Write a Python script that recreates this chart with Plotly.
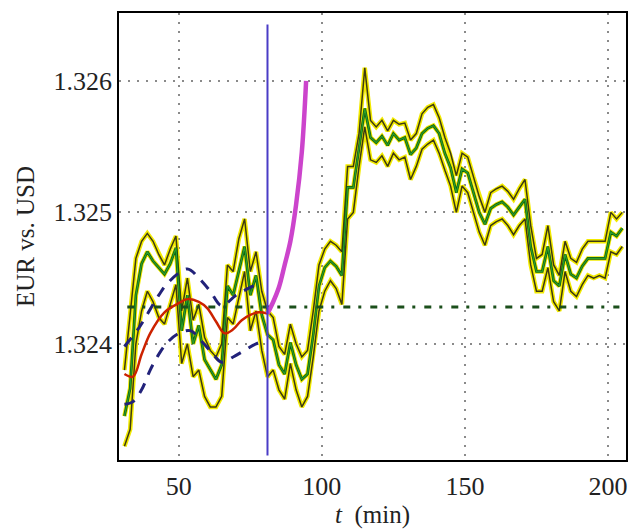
import plotly.graph_objects as go

# ---------------- data ----------------
t_price = list(range(31, 206, 2))
price_high = [1.32380, 1.32425, 1.32465, 1.32478, 1.32484, 1.32478, 1.32468, 1.32460, 1.32472, 1.32482,
              1.32425, 1.32450, 1.32418, 1.32430, 1.32405, 1.32395, 1.32390, 1.32400, 1.32460, 1.32455,
              1.32480, 1.32495, 1.32455, 1.32470, 1.32440, 1.32425, 1.32420, 1.32398, 1.32392, 1.32415,
              1.32400, 1.32390, 1.32395, 1.32425, 1.32460, 1.32472, 1.32478, 1.32475, 1.32470, 1.32535,
              1.32535, 1.32560, 1.32610, 1.32570, 1.32565, 1.32570, 1.32562, 1.32570, 1.32567, 1.32568,
              1.32555, 1.32560, 1.32575, 1.32580, 1.32582, 1.32572, 1.32557, 1.32545, 1.32528, 1.32545,
              1.32542, 1.32527, 1.32512, 1.32500, 1.32515, 1.32518, 1.32520, 1.32516, 1.32510, 1.32518,
              1.32525, 1.32490, 1.32465, 1.32468, 1.32490, 1.32460, 1.32452, 1.32478, 1.32465, 1.32462,
              1.32472, 1.32478, 1.32478, 1.32478, 1.32478, 1.32500, 1.32495, 1.32500]
price_mid = [1.32345, 1.32366, 1.32437, 1.32461, 1.32470, 1.32463, 1.32458, 1.32453, 1.32461, 1.32473,
             1.32410, 1.32437, 1.32400, 1.32414, 1.32388, 1.32381, 1.32373, 1.32384, 1.32444, 1.32437,
             1.32455, 1.32474, 1.32437, 1.32452, 1.32422, 1.32407, 1.32403, 1.32384, 1.32377, 1.32401,
             1.32384, 1.32373, 1.32377, 1.32407, 1.32444, 1.32458, 1.32463, 1.32459, 1.32452, 1.32519,
             1.32519, 1.32549, 1.32579, 1.32557, 1.32553, 1.32558, 1.32551, 1.32560, 1.32555, 1.32557,
             1.32544, 1.32549, 1.32560, 1.32564, 1.32566, 1.32560, 1.32545, 1.32534, 1.32515, 1.32533,
             1.32530, 1.32515, 1.32500, 1.32491, 1.32503, 1.32506, 1.32508, 1.32504, 1.32498, 1.32504,
             1.32510, 1.32474, 1.32455, 1.32455, 1.32474, 1.32448, 1.32444, 1.32468, 1.32453, 1.32450,
             1.32459, 1.32465, 1.32465, 1.32465, 1.32465, 1.32485, 1.32482, 1.32488]
price_low = [1.32322, 1.32335, 1.32400, 1.32425, 1.32440, 1.32432, 1.32420, 1.32415, 1.32430, 1.32445,
             1.32385, 1.32400, 1.32375, 1.32380, 1.32360, 1.32352, 1.32352, 1.32360, 1.32420, 1.32415,
             1.32435, 1.32455, 1.32410, 1.32425, 1.32395, 1.32375, 1.32380, 1.32365, 1.32358, 1.32385,
             1.32365, 1.32352, 1.32360, 1.32390, 1.32425, 1.32440, 1.32448, 1.32442, 1.32430, 1.32495,
             1.32500, 1.32535, 1.32565, 1.32540, 1.32538, 1.32543, 1.32535, 1.32545, 1.32540, 1.32542,
             1.32525, 1.32535, 1.32548, 1.32552, 1.32555, 1.32545, 1.32532, 1.32520, 1.32500, 1.32520,
             1.32515, 1.32500, 1.32485, 1.32475, 1.32490, 1.32493, 1.32495, 1.32490, 1.32483, 1.32490,
             1.32495, 1.32460, 1.32440, 1.32440, 1.32458, 1.32432, 1.32425, 1.32455, 1.32440, 1.32436,
             1.32445, 1.32452, 1.32450, 1.32452, 1.32450, 1.32470, 1.32468, 1.32474]

t_trend = [31, 34, 37, 40, 45, 50, 53, 57, 60, 63, 66, 69, 72, 75, 78, 81]
trend = [1.32377, 1.32375, 1.32392, 1.32408, 1.32424, 1.32431, 1.32434, 1.32432, 1.32427, 1.32417,
         1.32408, 1.32411, 1.32418, 1.32422, 1.32424, 1.32423]

t_band_up = [31, 36, 43, 46, 53, 57, 61, 65, 70, 76, 79]
band_up = [1.32398, 1.32412, 1.32437, 1.32446, 1.32457, 1.32450, 1.32440, 1.32429, 1.32437, 1.32444, 1.32447]
t_band_lo = [31, 34, 37, 40, 43, 46, 50, 54, 58, 62, 65, 69, 73, 77, 80]
band_lo = [1.32354, 1.32356, 1.32365, 1.32380, 1.32392, 1.32401, 1.32408, 1.32410, 1.32402, 1.32392,
           1.32386, 1.32390, 1.32395, 1.32400, 1.32402]

t_forecast = [81, 83, 85, 87, 89, 91, 93, 94.5]
forecast = [1.32423, 1.32432, 1.32443, 1.32460, 1.32478, 1.32506, 1.32546, 1.32600]

level_t = [32, 204]
level_value = 1.32428
now_t = 81
now_span = [1.32315, 1.32643]

x_ticks = [50, 100, 150, 200]
y_ticks = [1.324, 1.325, 1.326]
y_tick_text = ["1.324", "1.325", "1.326"]

# ---------------- figure ----------------
fig = go.Figure()

YEL = "#f2ea00"
for ys in (price_high, price_low, price_mid):
    fig.add_trace(go.Scatter(x=t_price, y=ys, mode="lines",
                             line=dict(color=YEL, width=4.5), hoverinfo="skip", showlegend=False))
for ys in (price_high, price_low):
    fig.add_trace(go.Scatter(x=t_price, y=ys, mode="lines",
                             line=dict(color="#3d3a12", width=1.5), showlegend=False))
fig.add_trace(go.Scatter(x=t_price, y=price_mid, mode="lines",
                         line=dict(color="#0f5a12", width=2.6), showlegend=False))
fig.add_trace(go.Scatter(x=t_price, y=price_mid, mode="lines",
                         line=dict(color="#2aa02a", width=1.2), showlegend=False))

fig.add_trace(go.Scatter(x=level_t, y=[level_value] * len(level_t), mode="lines",
                         line=dict(color="#1b4f1b", width=3, dash="7px,8px,3px,9px"),
                         showlegend=False))

fig.add_trace(go.Scatter(x=t_band_up, y=band_up, mode="lines", line_shape="spline",
                         line=dict(color="#22227a", width=3, dash="11px,9px"), showlegend=False))
fig.add_trace(go.Scatter(x=t_band_lo, y=band_lo, mode="lines", line_shape="spline",
                         line=dict(color="#22227a", width=3, dash="11px,9px"), showlegend=False))

fig.add_trace(go.Scatter(x=t_trend, y=trend, mode="lines", line_shape="spline",
                         line=dict(color="#cc2200", width=2.5), showlegend=False))

fig.add_trace(go.Scatter(x=t_forecast, y=forecast, mode="lines", line_shape="spline",
                         line=dict(color="#cc44cc", width=4.5), showlegend=False))

fig.add_trace(go.Scatter(x=[now_t, now_t], y=now_span, mode="lines",
                         line=dict(color="#4a3cc6", width=2), showlegend=False))

FONT = "Liberation Serif"
fig.update_layout(
    width=632, height=529,
    margin=dict(l=119, r=4, t=13, b=62),
    paper_bgcolor="white", plot_bgcolor="white",
    font=dict(family=FONT, size=26, color="#222"),
    showlegend=False,
)
fig.update_xaxes(
    range=[29.1, 206.3], tickvals=x_ticks, ticks="", ticklabelstandoff=2,
    showgrid=True, gridcolor="#8a8a8a", gridwidth=1.5, griddash="2px,7px",
    showline=True, linecolor="black", linewidth=1.5, mirror=True, zeroline=False,
    title=dict(text="<i>t</i>  (min)", font=dict(size=25), standoff=7),
)
fig.update_yaxes(
    range=[1.323116, 1.326517], tickvals=y_ticks, ticktext=y_tick_text, ticks="",
    showgrid=True, gridcolor="#8a8a8a", gridwidth=1.5, griddash="2px,7px",
    showline=True, linecolor="black", linewidth=1.5, mirror=True, zeroline=False,
    title=dict(text="EUR vs. USD", font=dict(size=25), standoff=12),
)

fig.write_html("out.html", config={"displayModeBar": False},
               post_script="document.body.style.margin='0';document.body.style.overflow='hidden';")
